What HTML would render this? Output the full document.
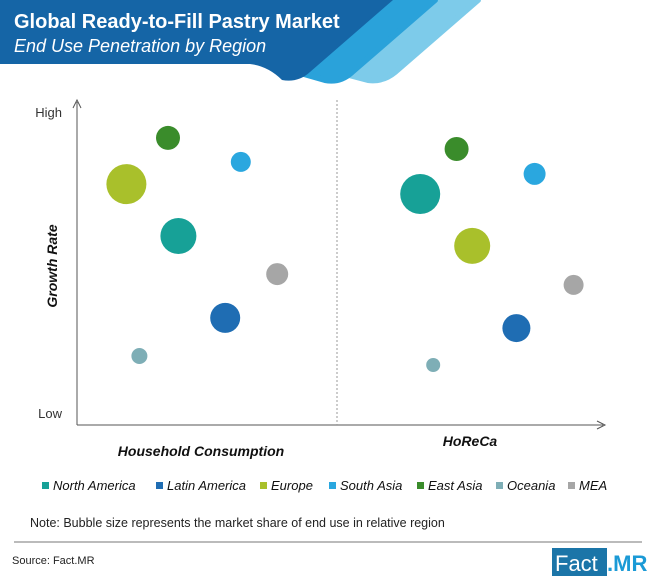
<!DOCTYPE html>
<html><head><meta charset="utf-8"><style>
body{margin:0;background:#fff;}
svg{display:block;font-family:"Liberation Sans",sans-serif;}
</style></head><body>
<svg width="650" height="581" viewBox="0 0 650 581">
<g>
<path d="M400,0 L478,0 L395,72 Q383,82 368,80 L330,70 Z" fill="#7dcbea" stroke="#7dcbea" stroke-width="6" stroke-linejoin="round"/>
<path d="M355,0 L435,0 L352,72 Q340,83 325,80 L290,70 Z" fill="#2aa2da" stroke="#2aa2da" stroke-width="6" stroke-linejoin="round"/>
<path d="M0,0 L393,0 L310,72 Q298,83 282,80 Q268,66 250,64 L0,64 Z" fill="#1565a6"/>
<text x="14" y="28" font-size="20" font-weight="bold" fill="#fff">Global Ready-to-Fill Pastry Market</text>
<text x="14" y="52" font-size="18" font-style="italic" fill="#fff">End Use Penetration by Region</text>
</g>
<g>
<line x1="77" y1="425" x2="77" y2="102" stroke="#555" stroke-width="1"/>
<path d="M73,108 L77,100 L81,108" fill="none" stroke="#555"/>
<line x1="77" y1="425" x2="603" y2="425" stroke="#555" stroke-width="1"/>
<path d="M597,421 L605,425 L597,429" fill="none" stroke="#555"/>
<line x1="337" y1="100" x2="337" y2="425" stroke="#999" stroke-dasharray="2,2"/>
<text x="62" y="117" font-size="13" fill="#333" text-anchor="end">High</text>
<text x="62" y="418" font-size="13" fill="#333" text-anchor="end">Low</text>
<text transform="translate(57,266) rotate(-90)" font-size="14" font-weight="bold" font-style="italic" fill="#111" text-anchor="middle">Growth Rate</text>
<text x="201" y="456" font-size="14" font-weight="bold" font-style="italic" fill="#111" text-anchor="middle">Household Consumption</text>
<text x="470" y="446" font-size="14" font-weight="bold" font-style="italic" fill="#111" text-anchor="middle">HoReCa</text>
</g>
<g id="bubbles"></g>
<g id="legend"></g>
<text x="30" y="527" font-size="12.5" fill="#222">Note: Bubble size represents the market share of end use in relative region</text>
<line x1="14" y1="542" x2="642" y2="542" stroke="#bbb" stroke-width="2"/>
<text x="12" y="564" font-size="11" fill="#222">Source: Fact.MR</text>
<g>
<rect x="552" y="548" width="55" height="28" fill="#1b75a8"/>
<text x="555" y="571" font-size="22" fill="#fff">Fact</text>
<text x="607" y="571" font-size="22" font-weight="bold" fill="#1b9ad6">.MR</text>
</g>
</svg>
<script>
const regions=["North America","Latin America","Europe","South Asia","East Asia","Oceania","MEA"];
const colors=["#17a197","#1f6db3","#a9c02b","#2aa7df","#3a8c2b","#7eaeb6","#a6a6a6"];
const householdPos=[39,57,19,63,35,24,77];
const householdGrowth=[58,30.7,75.3,82.7,90.7,18,45.3];
const householdShare=[18,15,20,10,12,8,11];
const horecaPos=[32,69,52,76,46,37,91];
const horecaGrowth=[72,27.3,54.7,78.7,87,15,41.7];
const horecaShare=[20,14,18,11,12,7,10];
const NS="http://www.w3.org/2000/svg";
const xH=v=>77+v/100*260, xR=v=>337+v/100*260, yS=v=>410-v/100*300, rS=v=>v;
const bg=document.getElementById('bubbles');
function draw(pos,gr,sh,xf,seg){
 for(let i=0;i<regions.length;i++){
  const c=document.createElementNS(NS,'circle');
  c.setAttribute('cx',xf(pos[i]));c.setAttribute('cy',yS(gr[i]));c.setAttribute('r',rS(sh[i]));
  c.setAttribute('fill',colors[i]);
  
  
  bg.appendChild(c);
 }
}
draw(householdPos,householdGrowth,householdShare,xH,'household');
draw(horecaPos,horecaGrowth,horecaShare,xR,'horeca');
const lg=document.getElementById('legend');
const lx=[42,156,260,329,417,496,568];
for(let i=0;i<regions.length;i++){
 const g=document.createElementNS(NS,'g');
 
 
 const r=document.createElementNS(NS,'rect');
 r.setAttribute('x',lx[i]);r.setAttribute('y',482);r.setAttribute('width',7);r.setAttribute('height',7);r.setAttribute('fill',colors[i]);
 const t=document.createElementNS(NS,'text');
 t.setAttribute('x',lx[i]+11);t.setAttribute('y',490);t.setAttribute('font-size','13');t.setAttribute('font-style','italic');t.setAttribute('fill','#111');
 t.textContent=regions[i];
 g.appendChild(r);g.appendChild(t);lg.appendChild(g);
}
</script>
</body></html>
